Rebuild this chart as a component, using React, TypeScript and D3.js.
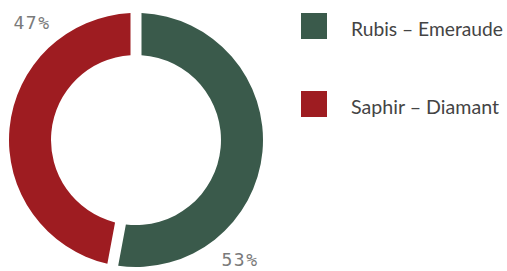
import React from "react";
import * as d3 from "d3";

const categories = ["Rubis – Emeraude", "Saphir – Diamant"];
const values = [53, 47];
const labels = ["53%", "47%"];
const colors = ["#3a5a4b", "#9e1c21"];

const width = 507;
const height = 271;
const cx = 136;
const cy = 140;
const outerR = 127;
const innerR = 85;

const App = () => {
  const pie = d3
    .pie<number>()
    .sort(null)
    .padAngle(0.072)
    .value((d) => d);
  const arcs = pie(values);

  const arc = d3
    .arc<d3.PieArcDatum<number>>()
    .innerRadius(innerR)
    .outerRadius(outerR);

  // labels sit outside the ring, shifted a bit clockwise past the slice middle
  const labelPos = (a: d3.PieArcDatum<number>) => {
    const ang = (a.startAngle + a.endAngle) / 2 + 0.76;
    const r = 158;
    return [Math.sin(ang) * r, -Math.cos(ang) * r + 1];
  };

  const legendY = d3.scalePoint<string>().domain(categories).range([26, 104]);

  return (
    <svg
      width={width}
      height={height}
      style={{ position: "absolute", left: 0, top: 0, background: "#fff" }}
    >
      <g transform={`translate(${cx},${cy})`}>
        {arcs.map((a, i) => (
          <path key={i} d={arc(a) || ""} fill={colors[i]} />
        ))}
        {arcs.map((a, i) => {
          const [x, y] = labelPos(a);
          return (
            <text
              key={"l" + i}
              x={x}
              y={y}
              textAnchor="middle"
              dominantBaseline="central"
              fontFamily="DejaVu Sans Mono"
              fontSize={18}
              letterSpacing={1.5}
              fill="#7a7a7a"
            >
              {labels[i]}
            </text>
          );
        })}
      </g>
      <g>
        {categories.map((c, i) => (
          <g key={c} transform={`translate(301,${legendY(c)})`}>
            <rect x={0} y={-13} width={26} height={26} fill={colors[i]} />
            <text
              x={50}
              y={5}
              fontFamily="Lato"
              fontSize={19}
              fill="#444"
              dominantBaseline="middle"
              textLength={i === 0 ? 152 : 148}
              lengthAdjust="spacingAndGlyphs"
            >
              {c}
            </text>
          </g>
        ))}
      </g>
    </svg>
  );
};

export default App;
